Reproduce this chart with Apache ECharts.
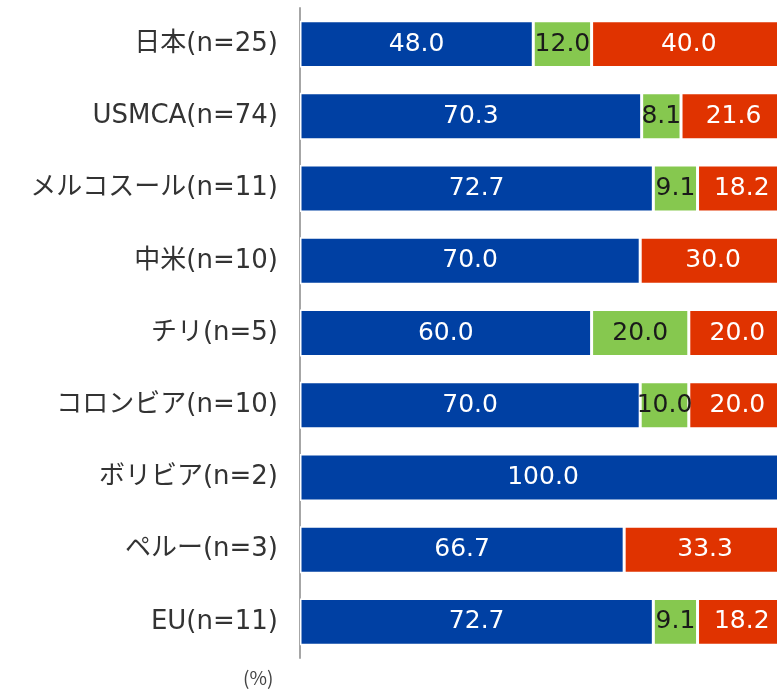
<!DOCTYPE html>
<html>
<head>
<meta charset="utf-8">
<script src="https://cdn.jsdelivr.net/npm/echarts@6/dist/echarts.min.js"></script>
<style>
html,body{margin:0;padding:0;background:#fff;}
#chart{width:777px;height:689px;}
</style>
</head>
<body>
<div id="chart"></div>
<script>
const categories = ["日本(n=25)","USMCA(n=74)","メルコスール(n=11)","中米(n=10)","チリ(n=5)","コロンビア(n=10)","ボリビア(n=2)","ペルー(n=3)","EU(n=11)"];
const blueValues = [48.0, 70.3, 72.7, 70.0, 60.0, 70.0, 100.0, 66.7, 72.7];
const greenValues = [12.0, 8.1, 9.1, 0, 20.0, 10.0, 0, 0, 9.1];
const redValues = [40.0, 21.6, 18.2, 30.0, 20.0, 20.0, 0, 33.3, 18.2];
const unitLabel = "(%)";

const chart = echarts.init(document.getElementById('chart'));
const numFont = "DejaVu Sans, Noto Sans CJK JP, sans-serif";
function mk(name, data, color, textColor) {
  return {
    name: name, type: 'bar', stack: 'total', data: data, barWidth: '65%',
    itemStyle: { color: color, borderColor: '#ffffff', borderWidth: 1.5 },
    label: {
      show: true, position: 'inside', color: textColor,
      fontFamily: numFont, fontSize: 25,
      formatter: p => p.value > 0 ? p.value.toFixed(1) : ''
    }
  };
}
chart.setOption({
  animation: false,
  grid: { left: 300, top: 8, width: 486, height: 650, containLabel: false, outerBoundsMode: 'none' },
  xAxis: { type: 'value', min: 0, max: 100, show: false },
  yAxis: {
    type: 'category', data: categories, inverse: true,
    axisLine: { show: true, lineStyle: { color: '#A6A6A6', width: 2 } },
    axisTick: { show: false },
    axisLabel: { color: '#333333', fontSize: 26, margin: 22, fontFamily: "DejaVu Sans, Noto Sans CJK JP, sans-serif" }
  },
  series: [
    mk('blue', blueValues, '#0040A3', '#ffffff'),
    mk('green', greenValues, '#86C84F', '#1a1a1a'),
    mk('red', redValues, '#E03300', '#ffffff')
  ],
  graphic: [{
    type: 'text', left: 243, top: 668,
    style: { text: unitLabel, fontSize: 19, fill: '#444', fontFamily: "Noto Sans CJK JP, sans-serif" }
  }]
});
</script>
</body>
</html>
